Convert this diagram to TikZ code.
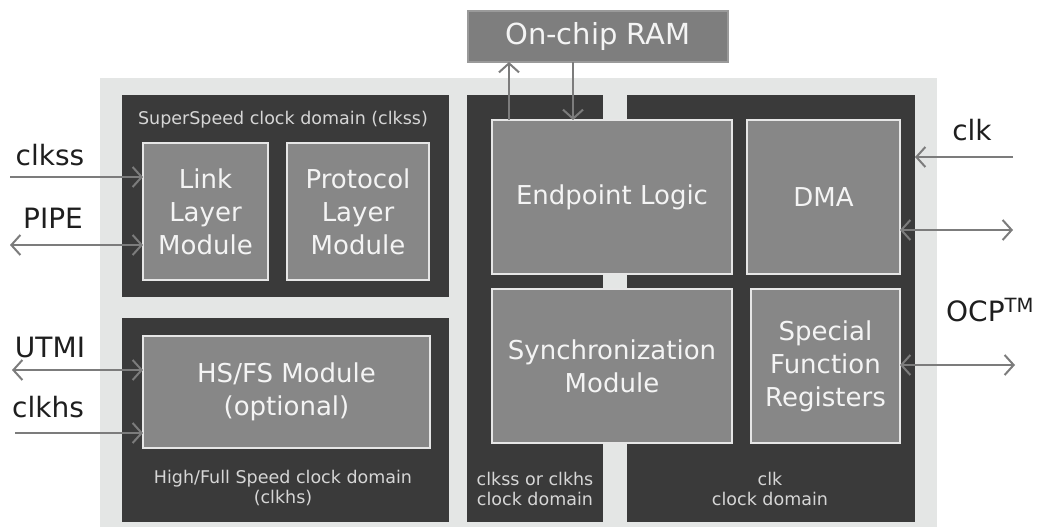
\documentclass[tikz,border=0pt]{standalone}
\usepackage{fontspec}
\setmainfont{DejaVu Sans}
\usetikzlibrary{arrows.meta}

\definecolor{panel}{HTML}{E4E6E5}
\definecolor{domainfill}{HTML}{3A3A3A}
\definecolor{modfill}{HTML}{878787}
\definecolor{modedge}{HTML}{E6E6E6}
\definecolor{modtext}{HTML}{F4F4F4}
\definecolor{domtext}{HTML}{D6D6D6}
\definecolor{ramfill}{HTML}{7E7E7E}
\definecolor{ramedge}{HTML}{9A9A9A}
\definecolor{wire}{HTML}{7C7C7C}
\definecolor{ink}{HTML}{1E1E1E}

\tikzset{
  barb/.tip={Straight Barb[length=9pt,width=20pt,line width=2pt]},
  clkzone/.style={fill=domainfill, draw=none, inner sep=0pt, outer sep=0pt, anchor=north west},
  module/.style={fill=modfill, draw=modedge, line width=2pt, text=modtext, align=center,
    font=\fontsize{26}{33}\selectfont, inner sep=0pt, outer sep=0pt, anchor=north west},
  ramblock/.style={fill=ramfill, draw=ramedge, line width=1.5pt, text=modtext,
    font=\fontsize{29}{34}\selectfont, inner sep=0pt, outer sep=0pt, anchor=north west},
  zonelabel/.style={text=domtext, align=center, font=\fontsize{17.5}{20}\selectfont, inner sep=0pt},
  sigl/.style={text=ink, font=\fontsize{28}{34}\selectfont, inner sep=0pt},
  wireline/.style={draw=wire, line width=2pt},
  wireto/.style={wireline, -barb},
  wireboth/.style={wireline, barb-barb}
}

\begin{document}
\begin{tikzpicture}[x=1pt, y=-1pt]
\useasboundingbox (0,0) rectangle (1037,527);

% core background
\fill[panel] (100,78) rectangle (937,527);

% clock domains
\node[clkzone, minimum width=327pt, minimum height=202pt] (ssdom) at (122,95) {};
\node[clkzone, minimum width=327pt, minimum height=204pt] (hsdom) at (122,318) {};
\node[clkzone, minimum width=136pt, minimum height=427pt] (mixdom) at (467,95) {};
\node[clkzone, minimum width=288pt, minimum height=427pt] (clkdom) at (627,95) {};

% domain captions
\node[zonelabel] (sscap) at (283,120) {SuperSpeed clock domain (clkss)};
\node[zonelabel] (hscap) at (283,488) {High/Full Speed clock domain\\(clkhs)};
\node[zonelabel] (mixcap) at (535,489) {clkss or clkhs\\clock domain};
\node[zonelabel] (clkcap) at (770,489) {clk\\clock domain};

% functional modules
\node[module, minimum width=125pt, minimum height=137pt] (link) at (143,143) {Link\\Layer\\Module};
\node[module, minimum width=142pt, minimum height=137pt] (proto) at (287,143) {Protocol\\Layer\\Module};
\node[module, minimum width=287pt, minimum height=112pt] (hsfs) at (143,336) {HS/FS Module\\(optional)};
\node[module, minimum width=240pt, minimum height=154pt] (ep) at (492,120) {Endpoint Logic};
\node[module, minimum width=153pt, minimum height=154pt] (dma) at (747,120) {DMA};
\node[module, minimum width=240pt, minimum height=154pt] (sync) at (492,289) {Synchronization\\Module};
\node[module, minimum width=149pt, minimum height=154pt] (sfr) at (751,289) {Special\\Function\\Registers};

% external memory
\node[ramblock, minimum width=260pt, minimum height=51pt] (ram) at (468,11) {On-chip RAM};

% signal names
\node[sigl] (lclkss) at (50,155) {clkss};
\node[sigl] (lpipe) at (53,218) {PIPE};
\node[sigl] (lutmi) at (50,347) {UTMI};
\node[sigl] (lclkhs) at (48,407) {clkhs};
\node[sigl] (lclk) at (972,130) {clk};
\node[sigl, anchor=west] (locp) at (946,310) {OCP\textsuperscript{TM}};

% free ends of the external connectors
\coordinate (pclkss) at (10,177);
\coordinate (ppipe) at (10,245);
\coordinate (putmi) at (12,370);
\coordinate (pclkhs) at (15,433);
\coordinate (pclk) at (1013,157);
\coordinate (pdma) at (1013,230);
\coordinate (psfr) at (1015,365);

% left-side interfaces
\draw[wireto] (pclkss) -- (pclkss -| link.west);
\draw[wireboth] (ppipe) -- (ppipe -| link.west);
\draw[wireboth] (putmi) -- (putmi -| hsfs.west);
\draw[wireto] (pclkhs) -- (pclkhs -| hsfs.west);

% RAM access
\draw[wireto] (ep.north -| 509,0) -- (ram.south -| 509,0);
\draw[wireto] (ram.south -| 573,0) -- (ep.north -| 573,0);

% right-side interfaces
\draw[wireto] (pclk) -- (pclk -| clkdom.east);
\draw[wireboth] (pdma -| dma.east) -- (pdma);
\draw[wireboth] (psfr -| sfr.east) -- (psfr);
\end{tikzpicture}
\end{document}
